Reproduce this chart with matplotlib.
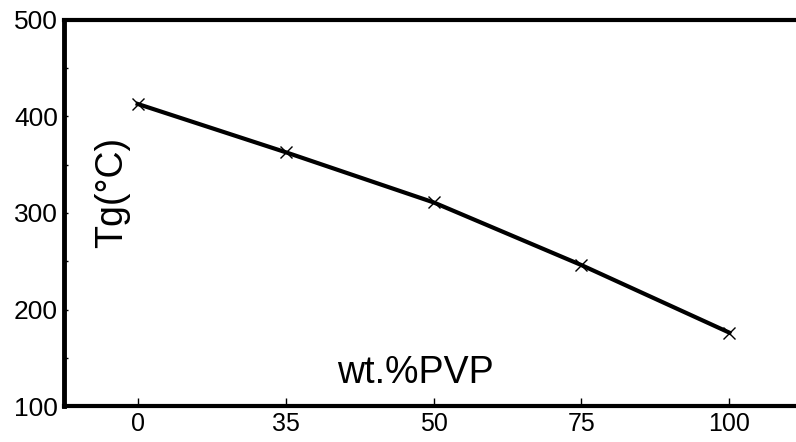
import numpy as np
import matplotlib.pyplot as plt

# data
pvp_labels = ["0", "35", "50", "75", "100"]
tg_values = [413, 363, 311, 246, 176]

plt.rcParams['font.family'] = ['Liberation Sans', 'DejaVu Sans']

fig = plt.figure(figsize=(7.96, 4.42), dpi=100)
ax = fig.add_axes([0.080, 0.0814, 0.920, 0.8734])

x = np.arange(len(pvp_labels))
ax.plot(x, tg_values, color='black', linewidth=3.0, marker='x',
        markersize=8, markeredgewidth=1.0, zorder=3)

ax.set_xlim(-0.5, 4.45)
ax.set_ylim(100, 500)
ax.set_xticks(x)
ax.set_xticklabels(pvp_labels)
ax.set_yticks([100, 200, 300, 400, 500])
ax.set_yticks([150, 250, 350, 450], minor=True)

# Despine
ax.spines['right'].set_visible(False)
ax.spines['left'].set_linewidth(3.5)
ax.spines['top'].set_linewidth(3.0)
ax.spines['bottom'].set_linewidth(3.0)

ax.tick_params(axis='x', direction='in', length=6, width=1, labelsize=18, pad=4)
ax.tick_params(axis='y', which='major', direction='in', length=3, width=1,
               labelsize=19, pad=4)
ax.tick_params(axis='y', which='minor', direction='in', length=3, width=1)

# axis titles sit inside the plot area
ax.text(0.066, 0.554, "Tg(°C)", transform=ax.transAxes, rotation=90,
        fontsize=27, ha='center', va='center')
ax.text(0.481, 0.085, "wt.%PVP", transform=ax.transAxes,
        fontsize=27, ha='center', va='center')

fig.savefig("out.png", dpi=100)
